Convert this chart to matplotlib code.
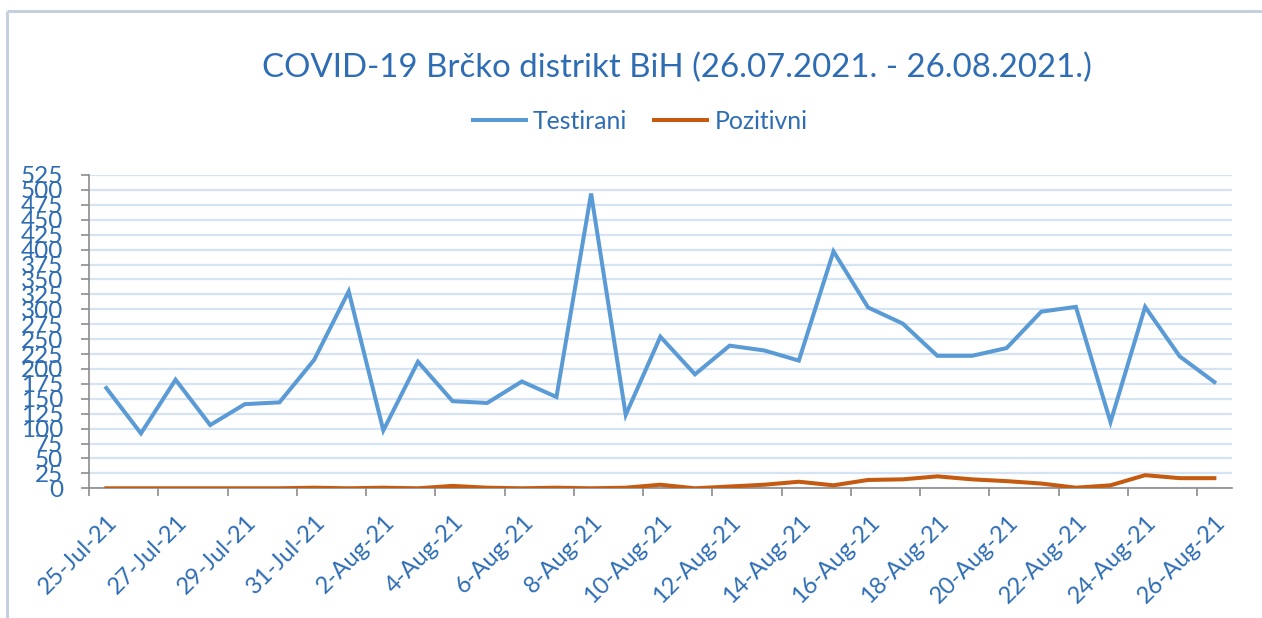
import matplotlib
matplotlib.use("Agg")
import matplotlib.pyplot as plt
import matplotlib.dates as mdates
import matplotlib.lines as mlines
import matplotlib.transforms as mtransforms
import pandas as pd
import numpy as np

dates = pd.date_range("2021-07-25", "2021-08-26", freq="D")
testirani = [168, 92, 182, 106, 141, 144, 215, 330, 97, 212, 146, 143, 179, 153,
             494, 123, 254, 191, 239, 231, 214, 397, 303, 276, 222, 222, 235, 296,
             304, 111, 304, 221, 178]
pozitivni = [0, 0, 0, 0, 0, 0, 1, 0, 1, 0, 4, 1, 0, 1, 0, 1, 6, 0, 3, 6, 11, 5,
             14, 15, 20, 15, 12, 8, 1, 5, 22, 17, 17]
title = "COVID-19 Brčko distrikt BiH (26.07.2021. - 26.08.2021.)"
series_names = ["Testirani", "Pozitivni"]
colors = ["#5B9BD5", "#C55A11"]
text_color = "#2E6DB4"

plt.rcParams['font.family'] = ['Lato', 'DejaVu Sans']

fig = plt.figure(figsize=(12.62, 6.18), dpi=100)
ax = fig.add_axes([89/1262, 1-488.3/618, (1231.7-89)/1262, (488.3-175)/618])

xpos = mdates.date2num(dates) + 0.5
ax.plot(xpos, testirani, color=colors[0], lw=2.9, solid_joinstyle='miter', zorder=3)
ax.plot(xpos, pozitivni, color=colors[1], lw=2.9, solid_joinstyle='miter', zorder=3)

x0 = mdates.date2num(dates[0])
x1 = mdates.date2num(dates[-1]) + 1
ax.set_xlim(x0, x1)
ax.set_ylim(0, 525)
ax.set_yticks(np.arange(0, 526, 25))
ax.yaxis.grid(True, color="#D6E3F2", lw=1.6)
ax.set_axisbelow(True)

tick_dates = dates[::2]
ax.set_xticks(mdates.date2num(tick_dates))
ax.set_xticklabels([])
ax.set_xticks(mdates.date2num(tick_dates) + 0.5, minor=True)
ax.set_xticklabels([f"{d.day}-{d.strftime('%b-%y')}" for d in tick_dates], minor=True,
                   rotation=45, ha='right', va='center', rotation_mode='anchor',
                   color=text_color, fontsize=17)
ax.tick_params(axis='x', which='minor', length=0, pad=20)
ax.tick_params(axis='x', which='major', length=6, width=1.2, color="#8C8C8C")
ax.tick_params(axis='y', length=6, width=1.2, color="#8C8C8C", labelcolor=text_color,
               labelsize=17.5, pad=12.5)

shift = mtransforms.ScaledTranslation(8/100, -3/100, fig.dpi_scale_trans)
for lab in ax.get_xticklabels(minor=True):
    lab.set_transform(lab.get_transform() + shift)

for s in ['top', 'right']:
    ax.spines[s].set_visible(False)
for s in ['left', 'bottom']:
    ax.spines[s].set_color("#8C8C8C")
    ax.spines[s].set_linewidth(1.2)

fig.text(677/1262, 1-68/618, title, ha='center', va='center', color=text_color, fontsize=23.8)

handles = [mlines.Line2D([], [], color=c, lw=2.9) for c in colors]
fig.legend(handles, series_names, loc='center', bbox_to_anchor=(640/1262, 1-121/618),
           ncol=2, frameon=False, fontsize=17.8, labelcolor=text_color,
           handlelength=2.15, handletextpad=0.28, columnspacing=1.1)

border = "#C5CFDD"
fig.add_artist(mlines.Line2D([7/1262, 7/1262], [0, 1-11/618], color=border, lw=2.2,
                             solid_capstyle='butt', transform=fig.transFigure))
fig.add_artist(mlines.Line2D([7/1262, 1.01], [1-11/618, 1-11/618], color=border, lw=2.2,
                             solid_capstyle='butt', transform=fig.transFigure))

fig.savefig("out.png", dpi=100)
